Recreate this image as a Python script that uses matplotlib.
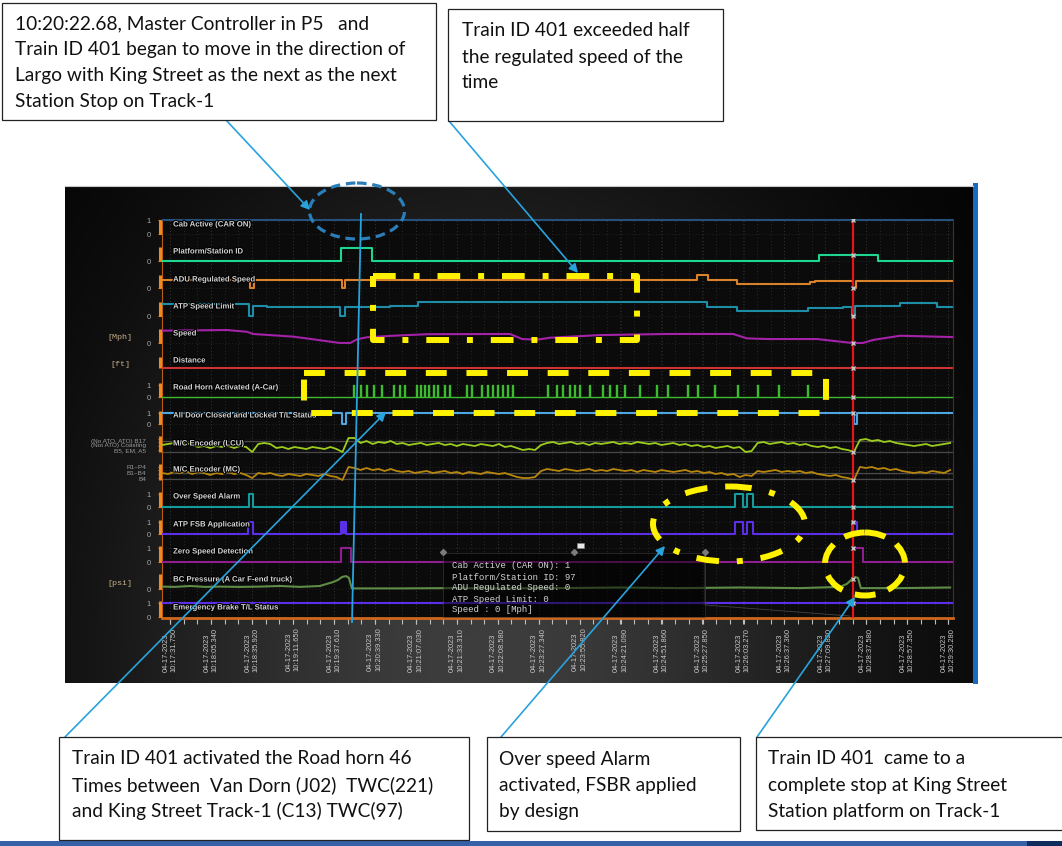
import matplotlib
matplotlib.use("Agg")
import matplotlib.pyplot as plt  # noqa: E402
import matplotlib.patheffects as pe  # noqa: E402
import numpy as np  # noqa: E402
from matplotlib.patches import Rectangle, Ellipse  # noqa: E402
from matplotlib.transforms import blended_transform_factory  # noqa: E402

W, H = 1062, 846

# ---- time axis: the logger spaces its timestamp labels evenly, x is in label slots ----
TICK_DATE = "04-17-2023"
TICK_TIMES = ["10:17:31.750", "10:18:05.340", "10:18:35.920", "10:19:11.650", "10:19:37.610",
              "10:20:39.330", "10:21:07.030", "10:21:33.310", "10:22:08.580", "10:23:27.340",
              "10:23:55.820", "10:24:21.090", "10:24:51.860", "10:25:27.850", "10:26:03.270",
              "10:26:37.360", "10:27:09.820", "10:28:37.580", "10:28:57.350", "10:29:30.280"]
CURSOR_T = 16.68

# ---- channels (step signals: change times + values) ----
CAB_T = [-0.2, 19.2]
CAB_V = [1, 1]
PLATFORM_T = [-0.2, 4.18, 4.93, 15.85, 17.29, 19.2]
PLATFORM_V = [0, 221, 0, 97, 0, 0]
ADU_T = [-0.2, 1.95, 2.05, 4.20, 4.27, 12.87, 13.14, 13.85, 15.63, 15.75, 16.68, 16.75, 19.2]
ADU_V = [45, 0, 45, 0, 45, 75, 45, 25, 35, 40, 0, 40, 40]
ATP_T = [-0.2, 1.93, 2.03, 2.36, 4.15, 4.27, 5.37, 6.06, 13.11, 13.84, 15.58, 16.44, 16.65,
         16.73, 17.83, 18.72, 19.2]
ATP_V = [60, 0, 50, 45, 0, 45, 50, 70, 45, 25, 40, 45, 0, 50, 65, 45, 45]
DIST_T = [-0.2, 19.2]
DIST_V = [0, 0]
DOOR_T = [-0.2, 4.20, 4.30, 16.70, 16.78, 19.2]
DOOR_V = [1, 0, 1, 0, 1, 1]
OVERSPEED_T = [-0.2, 1.93, 2.03, 13.80, 13.99, 14.09, 14.24, 19.2]
OVERSPEED_V = [0, 1, 0, 1, 0, 1, 0, 0]
FSB_T = [-0.2, 1.90, 2.03, 4.18, 4.30, 13.80, 13.99, 14.09, 14.24, 16.65, 16.77, 19.2]
FSB_V = [0, 1, 0, 1, 0, 1, 0, 1, 0, 1, 0, 0]
FSB_BURST = (4.18, 4.30)
ZERO_T = [-0.2, 4.18, 4.42, 16.68, 16.92, 19.2]
ZERO_V = [0, 1, 0, 1, 0, 0]
EB_T = [-0.2, 19.2]
EB_V = [1, 1]

# road horn pulses (46 activations)
HORN_T = [4.47, 4.64, 4.79, 4.96, 5.15, 5.45, 5.59, 5.71, 6.01, 6.11,
          6.20, 6.30, 6.42, 6.52, 6.69, 6.81, 7.23, 7.35, 7.60, 7.74,
          7.86, 7.99, 8.11, 8.23, 8.35, 9.21, 9.43, 9.57, 9.74, 9.87,
          9.99, 10.23, 10.55, 10.72, 10.89, 11.09, 11.45, 11.87, 12.14, 12.63,
          12.87, 13.28, 13.85, 14.34, 14.85, 15.56]
HORN_W = 0.025

# analog channels (sampled points)
SPEED_T = [-0.195, 1.39, 1.88, 2.03, 3.00, 3.49, 4.15, 4.40, 4.57, 4.81, 5.45, 6.28, 8.30, 8.60,
           8.96, 9.28, 10.50, 12.14, 13.75, 14.09, 14.58, 15.80, 16.61, 16.68, 16.92, 17.17,
           17.83, 19.10]
SPEED_V = [56, 59, 51, 41, 29, 17, 0, 0, 17, 26, 33, 40, 41, 18, 15, 24, 36, 41, 41, 21, 18,
           18, 1, 0, 0, 14, 33, 27]
BC_T = [-0.195, 0.12, 0.49, 0.86, 1.22, 1.71, 2.20, 2.69, 3.18, 3.66, 3.83, 3.98, 4.10, 4.20,
        4.30, 4.37, 4.44, 5.62, 6.84, 8.06, 9.52, 10.99, 12.45, 13.92, 15.39, 16.36, 16.53,
        16.63, 16.73, 16.80, 16.87, 17.83, 19.05]
BC_V = [8, 7, 10, 7, 8, 7, 8, 10, 7, 10, 17, 23, 30, 40, 43, 37, 2, 2, 3, 2, 3, 5, 3, 5, 3, 7,
        17, 30, 40, 37, 3, 3, 5]

# master controller encoder readings, evenly sampled over the window
LCU_V = [7, 8, 9, 8, 9, 7, 5, 6, 4, 6, 5, 6, 4, 6, 5, 0, 8, 9, 8, 4,
         5, 3, 5, 4, 3, 5, 4, 3, 5, 3, 0, 14, 14, 9, 11, 8, 10, 9, 11, 8,
         9, 7, 8, 9, 7, 8, 9, 7, 8, 6, 8, 7, 6, 8, 7, 6, 8, 5, 6, 4,
         2, 3, 2, 7, 9, 10, 8, 9, 10, 8, 9, 7, 9, 8, 9, 10, 8, 9, 8, 10,
         9, 8, 9, 7, 8, 9, 7, 8, 6, 7, 5, 6, 4, 5, 6, 4, 5, 0, 1, 9,
         10, 8, 9, 10, 8, 9, 7, 8, 6, 5, 6, 4, 5, 3, 2, 0, 12, 13, 11, 12,
         10, 11, 9, 8, 7, 6, 7, 8, 6, 7, 8, 9]
MC_V = [7, 6, 8, 7, 9, 6, 8, 7, 5, 7, 6, 8, 6, 7, 5, 2, 7, 6, 7, 5,
        4, 6, 5, 4, 6, 5, 4, 6, 4, 3, 0, 13, 12, 10, 12, 10, 11, 9, 11, 9,
        8, 9, 7, 8, 9, 7, 8, 9, 7, 8, 6, 8, 7, 6, 8, 7, 6, 7, 5, 3,
        2, 2, 3, 9, 11, 10, 9, 11, 10, 9, 10, 11, 9, 10, 9, 11, 10, 9, 10, 8,
        10, 9, 8, 10, 9, 8, 9, 10, 8, 9, 7, 8, 6, 7, 5, 6, 3, 5, 4, 9,
        8, 9, 10, 8, 9, 8, 9, 7, 8, 6, 5, 4, 5, 3, 2, 0, 13, 12, 13, 11,
        12, 10, 11, 9, 8, 7, 8, 7, 9, 8, 7, 10]
ENC_SPAN = (-0.195, 19.05)

TOOLTIP = ["Cab Active (CAR ON): 1", "Platform/Station ID: 97", "ADU Regulated Speed: 0",
           "ATP Speed Limit: 0", "Speed : 0 [Mph]"]

NOTES = {
    "move": ["10:20:22.68, Master Controller in P5   and",
             "Train ID 401 began to move in the direction of",
             "Largo with King Street as the next as the next",
             "Station Stop on Track-1"],
    "half": ["Train ID 401 exceeded half", "the regulated speed of the", "time"],
    "horn": ["Train ID 401 activated the Road horn 46",
             "Times between  Van Dorn (J02)  TWC(221)",
             "and King Street Track-1 (C13) TWC(97)"],
    "alarm": ["Over speed Alarm", "activated, FSBR applied", "by design"],
    "stop": ["Train ID 401  came to a", "complete stop at King Street",
             "Station platform on Track-1"],
}

# ---- row layout: baseline (px from top), px per unit, colour, bracket top, label y ----
ROWS = {
    "cab":       (234, 14, "#24517e", 220, 225, "Cab Active (CAR ON)"),
    "platform":  (261, 0.061, "#1ed68f", 247, 252, "Platform/Station ID"),
    "adu":       (288, 0.18, "#d9822b", 275, 280, "ADU Regulated Speed"),
    "atp":       (316, 0.2, "#1e8ea8", 302, 307, "ATP Speed Limit"),
    "speed":     (343, 0.22, "#a322a8", 329, 334, "Speed"),
    "distance":  (368, 1, "#cc3333", 357, 361, "Distance"),
    "horn":      (397, 12, "#3dbb2f", 383, 388, "Road Horn Activated (A-Car)"),
    "door":      (424, 11, "#4da6e0", 411, 416, "All Door Closed and Locked T/L Status"),
    "lcu":       (452, 1, "#9ccc1c", 436, 444, "M/C Encoder (LCU)"),
    "mc":        (480, 1, "#b8860b", 464, 470, "M/C Encoder (MC)"),
    "overspeed": (507, 13, "#149c9c", 492, 497, "Over Speed Alarm"),
    "fsb":       (534, 12, "#5b2ee8", 520, 525, "ATP FSB Application"),
    "zero":      (562, 14, "#8e1f8e", 546, 552, "Zero Speed Detection"),
    "bc":        (589, 0.3, "#5f8c47", 574, 580, "BC Pressure (A Car F-end truck)"),
    "eb":        (617, 14, "#5b2ee8", 601, 608, "Emergency Brake T/L Status"),
}
BINARY = ["cab", "horn", "door", "overspeed", "fsb", "zero", "eb"]
ZERO_ONLY = ["platform", "adu", "atp", "speed", "bc"]
UNITS = {"speed": "[Mph]", "distance": "[ft]", "bc": "[psi]"}

PLOT_L, PLOT_R, PLOT_T, PLOT_B = 162, 953, 219, 618
XLIM = (-0.195, 19.12)
YEL = "#fff200"
CALLOUT = "#29a3dc"


def ypix(key, v):
    base, gain = ROWS[key][0], ROWS[key][1]
    return base - np.asarray(v, float) * gain


def step_at(t, times, vals):
    i = np.searchsorted(times, t, side="right") - 1
    return vals[max(i, 0)]


fig = plt.figure(figsize=(W / 100, H / 100), dpi=100, facecolor="white")

# backdrop: dark logger panel
bg = fig.add_axes([0, 0, 1, 1], zorder=0)
xs = np.linspace(65, 973, 400)
ys = np.linspace(186, 683, 220)
X, Y = np.meshgrid(xs, ys)
shade = 0.24 * np.exp(-((X - 480) / 380) ** 2 - ((Y - 660) / 500) ** 2)
bg.imshow(np.dstack([shade] * 3), extent=(65, 973, 683, 186), aspect="auto",
          interpolation="bilinear")
bg.plot([65, 973], [186.5, 186.5], color="#c8c8c8", lw=0.8)
bg.add_patch(Rectangle((973, 183), 5, 501, color="#1a6bbf", lw=0))
bg.add_patch(Rectangle((0, 841.5), 1027, 5, color="#3461a8", lw=0))
bg.add_patch(Rectangle((1027, 841.5), 40, 5, color="#0f2d5c", lw=0))
bg.set_xlim(0, W)
bg.set_ylim(H, 0)
bg.axis("off")

# trace area: x in label slots, y in panel pixels
ax = fig.add_axes([PLOT_L / W, 1 - PLOT_B / H, (PLOT_R - PLOT_L) / W, (PLOT_B - PLOT_T) / H],
                  zorder=1)
ax.set_facecolor("#0b0b0b")
ax.set_xlim(*XLIM)
ax.set_ylim(PLOT_B, PLOT_T)
lw = 1.5

for key, T, V in [("cab", CAB_T, CAB_V), ("platform", PLATFORM_T, PLATFORM_V),
                  ("adu", ADU_T, ADU_V), ("atp", ATP_T, ATP_V), ("distance", DIST_T, DIST_V),
                  ("door", DOOR_T, DOOR_V), ("overspeed", OVERSPEED_T, OVERSPEED_V),
                  ("fsb", FSB_T, FSB_V), ("zero", ZERO_T, ZERO_V), ("eb", EB_T, EB_V)]:
    ax.plot(T, ypix(key, V), drawstyle="steps-post", color=ROWS[key][2], lw=lw, zorder=3)

ax.fill_between(FSB_BURST, ypix("fsb", 0), ypix("fsb", 1), color=ROWS["fsb"][2], lw=0, zorder=3)

# horn pulses
hx, hy = [XLIM[0]], [0]
for t in HORN_T:
    hx += [t, t, t + HORN_W, t + HORN_W]
    hy += [0, 1, 1, 0]
hx.append(XLIM[1])
hy.append(0)
ax.plot(hx, ypix("horn", hy), color=ROWS["horn"][2], lw=1.0, zorder=3)

ax.plot(SPEED_T, ypix("speed", SPEED_V), color=ROWS["speed"][2], lw=lw, zorder=3)
ax.plot(BC_T, ypix("bc", BC_V), color=ROWS["bc"][2], lw=lw, zorder=3)

enc_x = np.linspace(*ENC_SPAN, len(LCU_V))
for key, vals, refs in [("lcu", LCU_V, (0, 11.5)), ("mc", MC_V, (1.5, 7.5))]:
    for r in refs:
        ax.axhline(ypix(key, r), color="#4a4a4a", lw=0.9, zorder=2)
    ax.plot(enc_x, ypix(key, vals), color=ROWS[key][2], lw=1.3, zorder=3)

# cursor and its read-out markers
ax.axvline(CURSOR_T, color="#e8141a", lw=1.6, zorder=4)
cursor_vals = {
    "cab": step_at(CURSOR_T, CAB_T, CAB_V), "platform": step_at(CURSOR_T, PLATFORM_T, PLATFORM_V),
    "adu": step_at(CURSOR_T, ADU_T, ADU_V), "atp": step_at(CURSOR_T, ATP_T, ATP_V),
    "speed": np.interp(CURSOR_T, SPEED_T, SPEED_V), "distance": 0,
    "horn": 0, "door": step_at(CURSOR_T, DOOR_T, DOOR_V),
    "lcu": np.interp(CURSOR_T, enc_x, LCU_V), "mc": np.interp(CURSOR_T, enc_x, MC_V),
    "overspeed": step_at(CURSOR_T, OVERSPEED_T, OVERSPEED_V),
    "fsb": step_at(CURSOR_T, FSB_T, FSB_V), "zero": step_at(CURSOR_T, ZERO_T, ZERO_V),
    "bc": np.interp(CURSOR_T, BC_T, BC_V), "eb": 1,
}
for key, v in cursor_vals.items():
    ax.plot(CURSOR_T, ypix(key, v), marker="x", ms=3.5, mew=1, color="#c4c4c4", zorder=5)

# y ticks: 1 / 0 per channel
yt, yl = [], []
for key in BINARY:
    yt += [ypix(key, 1), ypix(key, 0)]
    yl += ["1", "0"]
for key in ZERO_ONLY:
    yt.append(ypix(key, 0))
    yl.append("0")
for key in ("lcu", "mc"):
    for v in (2, 6, 10, 13):
        yt.append(ypix(key, v))
        yl.append("")
ax.set_yticks(yt, labels=yl, fontsize=5.5, color="#a8a8a8", family="Liberation Sans")
ax.tick_params(axis="y", length=3, width=0.8, color="#e07b1a", pad=5)

ax.set_xticks(range(len(TICK_TIMES)), labels=[f"{TICK_DATE}\n{t}" for t in TICK_TIMES],
              rotation=90, fontsize=5.4, color="#c8c8c8", family="Liberation Sans",
              multialignment="left")
ax.set_xticks(np.arange(XLIM[0] + 0.2, XLIM[1], 1 / 3), minor=True)
ax.tick_params(axis="x", which="both", length=4, width=0.8, color="#bdbdbd", pad=3)
ax.grid(True, which="both", axis="x", color="#333333", ls=(0, (1, 3)), lw=0.6)
ax.grid(True, which="major", axis="y", color="#2a2a2a", ls=(0, (1, 3)), lw=0.6)
ax.set_axisbelow(True)

for side in ("top", "right"):
    ax.spines[side].set_color("#4a3018")
    ax.spines[side].set_linewidth(0.8)
ax.spines["left"].set_color("#b85e16")
ax.spines["left"].set_linewidth(0.8)
ax.spines["bottom"].set_color("#d0661c")
ax.spines["bottom"].set_linewidth(2)

ytr = blended_transform_factory(ax.transAxes, ax.transData)
shadow = [pe.withStroke(linewidth=1.6, foreground="#000000")]
for key, (base, gain, color, top, label_y, name) in ROWS.items():
    ax.plot([-0.003, -0.003], [top, base], color="#f08a1e", lw=2.2, transform=ytr,
            clip_on=False, zorder=6, solid_capstyle="butt")
    ax.text(0.014, label_y, name, transform=ytr, fontsize=5.6, color="#d4d4d4",
            family="Liberation Sans", weight="bold", va="center", path_effects=shadow, zorder=6)
    if key in UNITS:
        ax.text(-0.053, label_y + 3, UNITS[key], transform=ytr, fontsize=6, color="#c8b08a",
                family="Liberation Mono", ha="center", va="center")

# encoder notch labels, stacked tightly beside each encoder row
enc_labels = [("lcu", -3, "(No ATO, ATO) B17"), ("lcu", 1, "(Not ATO) Coasting"),
              ("lcu", 7, "B5, EM, A5"), ("mc", -3, "R1~P4"), ("mc", 3, "B1~B4"),
              ("mc", 9, "B4")]
for key, dy, txt in enc_labels:
    ax.text(-0.02, ROWS[key][4] + dy, txt, transform=ytr, fontsize=4.6, color="#9a9a9a",
            family="Liberation Sans", ha="right", va="center", clip_on=False)

# annotation layer in figure pixels
ov = fig.add_axes([0, 0, 1, 1], zorder=3)
ov.patch.set_alpha(0)
ov.set_xlim(0, W)
ov.set_ylim(H, 0)
ov.axis("off")

# cursor read-out box
ov.add_patch(Rectangle((443, 553), 262, 64, fc="#000000", alpha=0.5, ec="#4a4a4a", lw=0.6,
                       zorder=1))
ov.plot([705, 705, 850], [553, 605, 616], color="#444444", lw=0.6, zorder=1)
ov.plot([443, 574, 705], [552, 552, 552], ls="none", marker="D", ms=3, color="#7a7a7a", zorder=1)
ov.add_patch(Rectangle((577, 543), 7, 5, fc="#e8e8e8", ec="#888888", lw=0.4, zorder=1))
for i, line in enumerate(TOOLTIP):
    ov.text(452, 566 + i * 11, line, fontsize=6.5, family="Liberation Mono", color="#d2d2d2",
            va="center", zorder=2)

# highlight marks
ov.add_patch(Rectangle((373, 276), 264, 64, fill=False, ec=YEL, lw=4.3,
                       ls=(0, (3.8, 3.0, 1.0, 3.0)), joinstyle="round", zorder=3))
ov.add_patch(Rectangle((304, 373), 522, 40, fill=False, ec=YEL, lw=4.3,
                       ls=(0, (3.5, 3.3)), joinstyle="round", zorder=3))
ov.add_patch(Ellipse((729, 524), 152, 75, fill=False, ec=YEL, lw=4.3,
                     ls=(0, (3.8, 3.0, 1.0, 3.0)), zorder=3))
ov.add_patch(Ellipse((865, 564), 80, 63, fill=False, ec=YEL, lw=4.3,
                     ls=(0, (3.5, 2.2)), zorder=3))
ov.add_patch(Ellipse((357, 211), 95, 56, fill=False, ec="#2b7fb8", lw=2.3,
                     ls=(0, (3.0, 1.8)), zorder=3))
ov.plot([361, 352], [214, 622], color=CALLOUT, lw=1.3, zorder=4)

# callouts
boxes = {"move": (2, 3, 436, 120, 15, 24), "half": (448, 9, 723, 121, 462, 31),
         "horn": (59, 737, 469, 840, 72, 759), "alarm": (487, 737, 740, 831, 499, 759),
         "stop": (756, 737, 1075, 830, 768, 759)}
leaders = {"move": ((226, 120), (310, 210)), "half": ((449, 121), (578, 273)),
           "horn": ((65, 737), (386, 412)), "alarm": ((501, 737), (665, 546)),
           "stop": ((757, 737), (855, 597))}
for key, (x0, y0, x1, y1, tx, ty) in boxes.items():
    ov.add_patch(Rectangle((x0, y0), x1 - x0, y1 - y0, fc="white", ec="#222222", lw=0.9,
                           zorder=5))
    for i, line in enumerate(NOTES[key]):
        ov.text(tx, ty + i * 26, line, fontsize=13.8, family="Lato", color="#111111",
                va="center", zorder=6)
    tail, tip = leaders[key]
    ov.annotate("", xy=tip, xytext=tail, zorder=4,
                arrowprops=dict(arrowstyle="-|>", color=CALLOUT, lw=1.2, mutation_scale=13,
                                shrinkA=0, shrinkB=0))

fig.savefig("out.png", dpi=100, facecolor="white")
